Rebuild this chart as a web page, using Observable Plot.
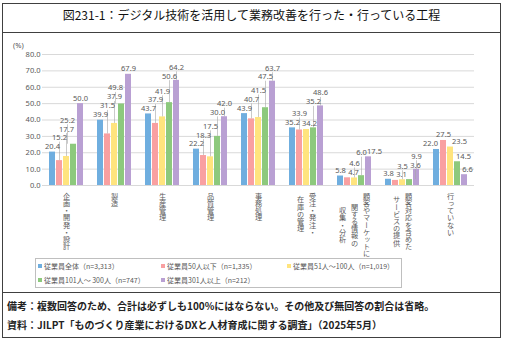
<!DOCTYPE html>
<html><head><meta charset="utf-8">
<script src="https://cdn.jsdelivr.net/npm/d3@7"></script>
<script src="https://cdn.jsdelivr.net/npm/@observablehq/plot@0.6"></script>
<style>
body{margin:0;background:#fff;font-family:"Noto Sans CJK JP","Noto Sans",sans-serif;}
#wrap{position:relative;width:508px;height:345px;overflow:hidden;background:#fff;}
#chart{position:absolute;left:0;top:0;}
.frame{position:absolute;left:2px;top:3px;width:499px;height:335px;border:1px solid #404040;box-sizing:border-box;}
.hline{position:absolute;left:2px;width:499px;height:0;border-top:1px solid #404040;}
#title{position:absolute;left:2px;width:499px;top:7px;text-align:center;font-size:12px;line-height:16px;color:#111;}
#unit{position:absolute;left:13px;top:40px;font-size:7.5px;color:#595959;font-family:"Noto Sans",sans-serif;}
#legend{position:absolute;left:35px;top:258px;width:367px;height:30px;border:1px solid #bfbfbf;box-sizing:border-box;}
.li{position:absolute;font-size:7px;line-height:10px;color:#595959;white-space:nowrap;}
.li i{display:inline-block;width:4px;height:4px;margin-right:2px;vertical-align:1px;}
.note{position:absolute;left:7px;font-size:10px;line-height:13px;font-weight:bold;color:#222;white-space:nowrap;}
g[fill="#5a5a5b"] text{writing-mode:vertical-rl;font-family:"Noto Sans CJK JP",sans-serif;}
</style></head><body>
<div id="wrap">
  <div id="chart"></div>
  <div class="frame"></div>
  <div class="hline" style="top:32px"></div>
  <div class="hline" style="top:292px"></div>
  <div id="title"></div>
  <div id="unit">(%)</div>
  <div id="legend"></div>
  <div class="note" id="n1" style="top:299px"></div>
  <div class="note" id="n2" style="top:318px"></div>
</div>
<script>
const titleText = "図231-1：デジタル技術を活用して業務改善を行った・行っている工程";
const note1 = "備考：複数回答のため、合計は必ずしも100%にはならない。その他及び無回答の割合は省略。";
const note2 = "資料：JILPT「ものづくり産業におけるDXと人材育成に関する調査」（2025年5月）";
const categories = ["企画・開発・設計","製造","生産管理","品質管理","事務処理","受注・発注・在庫の管理","顧客やマーケットに関する情報の収集・分析","顧客対応を含めたサービスの提供","行っていない"];
const categoryLines = [["企画・開発・設計"],["製造"],["生産管理"],["品質管理"],["事務処理"],["受注・発注・","在庫の管理"],["顧客やマーケットに","関する情報の","収集・分析"],["顧客対応を含めた","サービスの提供"],["行っていない"]];
const seriesNames = ["従業員全体（n=3,313）","従業員50人以下（n=1,335）","従業員51人～100人（n=1,019）","従業員101人～ 300人（n=747）","従業員301人以上（n=212）"];
const colors = ["#6FAEDF","#F9A0A1","#FFE47E","#8DC97D","#B9A0D3"];
const sAll  = [20.4,39.9,43.7,22.2,43.9,35.2,5.8,3.8,22.0];
const s50   = [15.2,31.5,37.9,18.3,40.7,33.9,4.7,3.1,27.5];
const s100  = [17.7,37.9,41.9,17.5,41.5,34.2,4.6,3.5,23.5];
const s300  = [25.2,49.8,50.6,30.0,47.5,35.2,6.0,3.6,14.5];
const s301  = [50.0,67.9,64.2,42.0,63.7,48.6,17.5,9.9,6.6];
const yTicks = [0,10,20,30,40,50,60,70,80];

document.getElementById("title").textContent = titleText;
document.getElementById("n1").textContent = note1;
document.getElementById("n2").textContent = note2;

const seriesArrays = [sAll,s50,s100,s300,s301];
const rows = [];
categories.forEach((cat,i)=>seriesArrays.forEach((arr,j)=>rows.push({cat, series: seriesNames[j], value: arr[i]})));

// layout constants
const W = 508, H = 262, mL = 38, mR = 30, mT = 54, axisY0 = 185;
const mB = H - axisY0;
const fw = (W - mL - mR) / categories.length;
const padIn = 0.2, padOut = 0.86;
const step = fw / (seriesNames.length - padIn + 2*padOut);
const bw = step * (1 - padIn);
const ppu = (axisY0 - mT) / 80;
const fs = 7.5;

// value label placement (collision avoidance)
function textW(s){let w=0;for(const c of s) w += c==="." ? 0.27*fs : 0.575*fs; return w;}
const labels = [];
categories.forEach((cat,i)=>{
  const vals = seriesArrays.map(a=>a[i]);
  const bars = vals.map((v,j)=>({x0:j*step-bw/2, x1:j*step+bw/2, top:v*ppu}));
  const placed = [];
  vals.forEach((v,j)=>{
    const t = v.toFixed(1), w = textW(t)+0.5, h = 8.5;
    let best = null;
    for (const dx of [0,-3,3,-6,6,-9,9]) {
      for (let lift=0; lift<=140; lift+=0.5) {
        const cost = lift + 1.2*Math.abs(dx);
        if (best && cost >= best.cost) break;
        const x0 = j*step+dx-w/2, x1 = j*step+dx+w/2, b = v*ppu+1.5+lift, tp = b+h;
        const hitBar = bars.some(B=>B.x1>x0 && B.x0<x1 && B.top>b);
        const hitLab = placed.some(P=>P.x1>x0 && P.x0<x1 && P.t>b && P.b<tp);
        if (!hitBar && !hitLab) { best = {dx,lift,cost,x0,x1,b,t:tp}; break; }
      }
    }
    placed.push(best);
    labels.push({cat, series: seriesNames[j], value: v, text: t, dx: best.dx, ly: (best.b+1.5)/ppu, leader: best.lift > 5});
  });
});
const dxs = [...new Set(labels.map(d=>d.dx))];

// category label lines (vertical text)
const colGap = 12, cfs = 7.2;
const catRows = [];
categories.forEach((cat,i)=>{
  const lines = categoryLines[i];
  const L = d3.max(lines, s=>[...s].length);
  const center = 7 + L*cfs/2;
  lines.forEach((line,k)=>catRows.push({cat, line, dx: ((lines.length-1)/2 - k)*colGap, y: -center/ppu}));
});
const cdxs = [...new Set(catRows.map(d=>d.dx))];

// y tick labels, drawn only in the first facet
const yTickRows = yTicks.map(v=>({cat: categories[0], v, label: v.toFixed(1)}));

const marks = [
  Plot.ruleY(yTicks, {stroke:"#d9d9d9", strokeWidth:1}),
  Plot.barY(rows, {fx:"cat", x:"series", y:"value", fill:"series"}),
  Plot.text(yTickRows, {fx:"cat", y:"v", text:"label", frameAnchor:"left", textAnchor:"end", dx:-2, fontSize:7.5, fill:"#595959"}),
  ...dxs.map(d=>Plot.link(labels.filter(l=>l.dx===d && l.leader), {fx:"cat", x1:"series", x2:"series", y1:l=>l.value+0.5/ppu, y2:l=>l.ly-1.5/ppu, dx:d, stroke:"#a6a6a6", strokeWidth:0.6})),
  ...dxs.map(d=>Plot.text(labels.filter(l=>l.dx===d), {fx:"cat", x:"series", y:"ly", text:"text", dx:d, lineAnchor:"bottom", fontSize:fs, fill:"#595959"})),
  ...cdxs.map(d=>Plot.text(catRows.filter(r=>r.dx===d), {fx:"cat", y:"y", text:"line", dx:d, lineAnchor:"bottom", textAnchor:"middle", fontSize:cfs, fill:"#5a5a5b"}))
];

const chart = Plot.plot({
  width: W, height: H,
  marginLeft: mL, marginRight: mR, marginTop: mT, marginBottom: mB,
  style: {fontFamily: "'Noto Sans', 'Noto Sans CJK JP', sans-serif", fontSize: "7.5px", color: "#595959", background: "transparent", overflow: "visible"},
  fx: {domain: categories, padding: 0, axis: null, label: null},
  x: {domain: seriesNames, paddingInner: padIn, paddingOuter: padOut, axis: null},
  y: {domain: [0,80], axis: null},
  color: {domain: seriesNames, range: colors},
  marks
});
document.getElementById("chart").appendChild(chart);

// legend
const lg = document.getElementById("legend");
const pos = [[2,2],[125,2],[251,2],[2,16],[125,16]];
seriesNames.forEach((s,j)=>{
  const el = document.createElement("div");
  el.className = "li";
  el.style.left = pos[j][0]+"px"; el.style.top = pos[j][1]+"px";
  el.innerHTML = `<i style="background:${colors[j]}"></i>`;
  el.appendChild(document.createTextNode(s));
  lg.appendChild(el);
});
</script>
</body></html>
